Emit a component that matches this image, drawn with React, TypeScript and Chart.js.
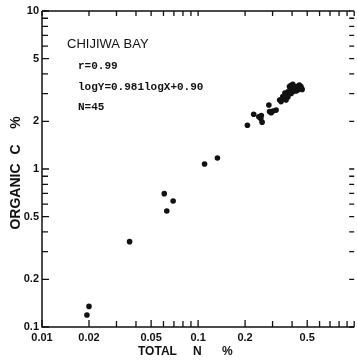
import React, { useEffect, useRef } from "react";
import { Chart, registerables } from "chart.js";

Chart.register(...registerables);

// Total N (%) of each sample
const totalN = [
  0.0194, 0.02, 0.0364, 0.0607, 0.0692, 0.063, 0.11, 0.133,
  0.207, 0.227, 0.245, 0.254, 0.257, 0.252, 0.284, 0.287, 0.302, 0.316, 0.294,
  0.333, 0.34, 0.349, 0.358, 0.366, 0.366, 0.376, 0.385, 0.385, 0.394, 0.394,
  0.404, 0.404, 0.414, 0.424, 0.424, 0.435, 0.445, 0.456, 0.464, 0.376, 0.36,
  0.344, 0.416, 0.392, 0.448,
];
// Organic C (%) of each sample
const organicC = [
  0.119, 0.135, 0.347, 0.698, 0.627, 0.542, 1.076, 1.174,
  1.89, 2.22, 2.14, 2.18, 1.98, 2.09, 2.54, 2.31, 2.33, 2.36, 2.27,
  2.73, 2.67, 2.87, 2.8, 2.94, 2.73, 3.08, 3.01, 3.32, 3.24, 3.01,
  3.08, 3.44, 3.24, 3.32, 3.12, 3.16, 3.4, 3.32, 3.19, 2.86, 3.03,
  2.77, 3.16, 3.38, 3.26,
];

const xTickValues = [
  0.01, 0.02, 0.03, 0.04, 0.05, 0.06, 0.07, 0.08, 0.09,
  0.1, 0.2, 0.3, 0.4, 0.5, 0.6, 0.7, 0.8, 0.9, 1,
];
const xTickLabels = ["0.01", "0.02", "0.05", "0.1", "0.2", "0.5"];
const yTickValues = [
  0.1, 0.2, 0.3, 0.4, 0.5, 0.6, 0.7, 0.8, 0.9,
  1, 2, 3, 4, 5, 6, 7, 8, 9, 10,
];
const yTickLabels = ["0.1", "0.2", "0.5", "1", "2", "5", "10"];

const siteName = "CHIJIWA BAY";
const statLines = ["r=0.99", "logY=0.981logX+0.90", "N=45"];
const xTitleParts = ["TOTAL", "N", "%"];
const yTitleParts = ["ORGANIC", "C", "%"];

const near = (a: number, b: number) => Math.abs(a - b) / b < 1e-6;
const labelFor = (labels: string[], v: number) => {
  const l = labels.find((s) => near(v, parseFloat(s)));
  return l === undefined ? "" : l;
};

const framePlugin = {
  id: "frameTicks",
  afterDraw(chart: any) {
    const { ctx, chartArea: a, scales } = chart;
    ctx.save();
    ctx.strokeStyle = "#111";
    ctx.lineWidth = 1.5;
    ctx.beginPath();
    ctx.moveTo(a.left, a.top);
    ctx.lineTo(a.right - 4, a.top);
    ctx.moveTo(a.left, a.top);
    ctx.lineTo(a.left, a.bottom);
    ctx.lineTo(a.right, a.bottom);
    ctx.stroke();
    ctx.lineWidth = 1.3;
    ctx.beginPath();
    xTickValues.forEach((v) => {
      const x = scales.x.getPixelForValue(v);
      const len = labelFor(xTickLabels, v) ? 7 : 6;
      ctx.moveTo(x, a.bottom);
      ctx.lineTo(x, a.bottom - len);
      ctx.moveTo(x, a.top);
      ctx.lineTo(x, a.top + 5);
    });
    yTickValues.forEach((v) => {
      const y = scales.y.getPixelForValue(v);
      const len = labelFor(yTickLabels, v) ? 7 : 6;
      ctx.moveTo(a.left, y);
      ctx.lineTo(a.left + len, y);
      ctx.moveTo(a.right, y);
      ctx.lineTo(a.right - 5, y);
    });
    ctx.stroke();

    ctx.fillStyle = "#111";
    ctx.textBaseline = "middle";
    ctx.textAlign = "left";
    ctx.font = "13px 'Liberation Sans', Arial, sans-serif";
    ctx.fillText(siteName, 67, 44);
    ctx.font = "bold 11px 'Liberation Mono', 'DejaVu Sans Mono', monospace";
    ctx.fillText(statLines[0], 78, 66);
    ctx.fillText(statLines[1], 78, 87);
    ctx.fillText(statLines[2], 78, 107);

    // x title
    ctx.font = "bold 12px 'Liberation Sans', Arial, sans-serif";
    ctx.fillText(xTitleParts[0], 138, 352);
    ctx.fillText(xTitleParts[1], 193, 352);
    ctx.fillText(xTitleParts[2], 222, 352);

    // y title
    ctx.font = "bold 14px 'Liberation Sans', Arial, sans-serif";
    ctx.textAlign = "center";
    const ys = [196.5, 149.5, 122.5];
    yTitleParts.forEach((t, i) => {
      ctx.save();
      ctx.translate(16, ys[i]);
      ctx.rotate(-Math.PI / 2);
      ctx.fillText(t, 0, 0);
      ctx.restore();
    });
    ctx.restore();
  },
};

export default function App() {
  const ref = useRef<HTMLCanvasElement | null>(null);
  useEffect(() => {
    if (!ref.current) return;
    const tickFont = { family: "'Liberation Sans', Arial, sans-serif", size: 11, weight: "bold" as const };
    const chart = new Chart(ref.current, {
      type: "scatter",
      data: {
        datasets: [
          {
            data: totalN.map((x, i) => ({ x, y: organicC[i] })),
            backgroundColor: "#111",
            borderColor: "#111",
            pointRadius: 2.8,
            pointHoverRadius: 2.8,
            borderWidth: 0,
          },
        ],
      },
      options: {
        responsive: false,
        animation: false,
        events: [],
        layout: { padding: { top: 11, right: 0, left: 0, bottom: 0 } },
        plugins: { legend: { display: false }, tooltip: { enabled: false } },
        scales: {
          x: {
            type: "logarithmic",
            min: 0.01,
            max: 1,
            grid: { display: false, drawTicks: false },
            border: { display: false },
            afterBuildTicks: (s: any) => {
              s.ticks = xTickValues.map((v) => ({ value: v }));
            },
            afterFit: (s: any) => {
              s.height = 34;
              s.paddingRight = 0;
            },
            ticks: {
              autoSkip: false,
              maxRotation: 0,
              padding: 4,
              color: "#111",
              font: tickFont,
              callback: (v: any) => labelFor(xTickLabels, Number(v)),
            },
          },
          y: {
            type: "logarithmic",
            min: 0.1,
            max: 10,
            grid: { display: false, drawTicks: false },
            border: { display: false },
            afterBuildTicks: (s: any) => {
              s.ticks = yTickValues.map((v) => ({ value: v }));
            },
            afterFit: (s: any) => {
              s.width = 42;
            },
            ticks: {
              autoSkip: false,
              padding: 3,
              color: "#111",
              font: tickFont,
              callback: (v: any) => labelFor(yTickLabels, Number(v)),
            },
          },
        },
      },
      plugins: [framePlugin],
    });
    return () => chart.destroy();
  }, []);
  return (
    <div style={{ position: "fixed", left: 0, top: 0, width: 357, height: 361, background: "#fff" }}>
      <canvas ref={ref} width={357} height={361} style={{ display: "block" }} />
    </div>
  );
}
